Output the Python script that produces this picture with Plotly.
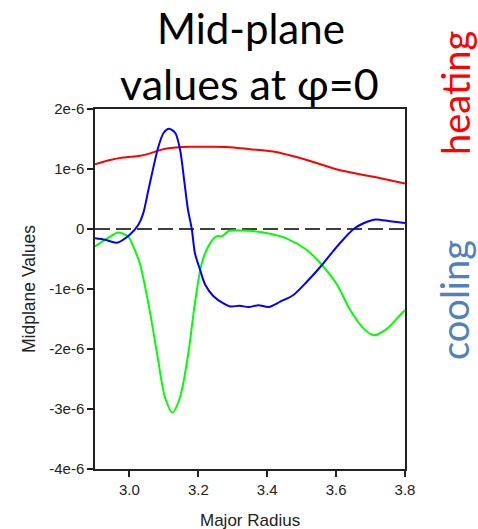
import plotly.graph_objects as go

# ---- data (values in units of 1e-6) ----
red_x = [2.9, 2.944, 2.982, 3.031, 3.06, 3.08, 3.108, 3.176, 3.244, 3.302, 3.35, 3.418, 3.515, 3.612, 3.709, 3.8]
red_y = [1.08, 1.15, 1.19, 1.22, 1.26, 1.30, 1.34, 1.37, 1.37, 1.36, 1.33, 1.29, 1.15, 0.98, 0.87, 0.76]

blue_x = [2.9, 2.93, 2.963, 3.0, 3.026, 3.04, 3.055, 3.07, 3.084, 3.099, 3.115, 3.133, 3.147, 3.16, 3.17,
          3.181, 3.19, 3.205, 3.22, 3.244, 3.273, 3.292, 3.32, 3.346, 3.375, 3.404, 3.438, 3.476, 3.515,
          3.559, 3.603, 3.651, 3.69, 3.714, 3.757, 3.8]
blue_y = [-0.155, -0.18, -0.23, -0.1, 0.07, 0.26, 0.65, 1.04, 1.37, 1.6, 1.67, 1.6, 1.32, 0.76, 0.32,
          0.0, -0.4, -0.68, -0.93, -1.12, -1.24, -1.29, -1.28, -1.3, -1.27, -1.3, -1.21, -1.1, -0.88,
          -0.6, -0.29, 0.0, 0.12, 0.16, 0.13, 0.1]

green_x = [2.9, 2.935, 2.968, 2.997, 3.011, 3.03, 3.055, 3.08, 3.103, 3.125, 3.147, 3.171, 3.19, 3.21,
           3.234, 3.254, 3.268, 3.29, 3.35, 3.409, 3.457, 3.515, 3.559, 3.603, 3.641, 3.68, 3.709,
           3.748, 3.777, 3.8]
green_y = [-0.29, -0.16, -0.06, -0.13, -0.29, -0.57, -1.24, -2.07, -2.8, -3.06, -2.8, -2.07, -1.24, -0.57,
           -0.24, -0.12, -0.12, -0.03, -0.03, -0.08, -0.16, -0.35, -0.6, -0.93, -1.35, -1.66, -1.77,
           -1.66, -1.49, -1.35]

zero_x = [2.9, 3.8]
zero_y = [0.0, 0.0]

y_tickvals = [2, 1, 0, -1, -2, -3, -4]
y_ticktext = ["2e-6", "1e-6", "0", "-1e-6", "-2e-6", "-3e-6", "-4e-6"]
x_tickvals = [3.0, 3.2, 3.4, 3.6, 3.8]
x_ticktext = ["3.0", "3.2", "3.4", "3.6", "3.8"]

SCALE = 1e-6


def sc(v):
    return [a * SCALE for a in v]


fig = go.Figure()
fig.add_trace(go.Scatter(x=zero_x, y=sc(zero_y), mode="lines",
                         line=dict(color="black", width=1.5, dash="15px,6px")))
fig.add_trace(go.Scatter(x=red_x, y=sc(red_y), mode="lines",
                         line=dict(color="#FF0000", width=2, shape="spline", smoothing=0.8)))
fig.add_trace(go.Scatter(x=green_x, y=sc(green_y), mode="lines",
                         line=dict(color="#00FF00", width=2, shape="spline", smoothing=0.8)))
fig.add_trace(go.Scatter(x=blue_x, y=sc(blue_y), mode="lines",
                         line=dict(color="#0000FF", width=2, shape="spline", smoothing=0.8)))

tickfont = dict(family="Liberation Sans, Arial", size=15, color="#222222")

fig.update_layout(
    width=478, height=529,
    margin=dict(l=95, r=73, t=109, b=60),
    paper_bgcolor="white", plot_bgcolor="white",
    showlegend=False,
    xaxis=dict(range=[2.9, 3.8], tickvals=x_tickvals, ticktext=x_ticktext,
               ticks="outside", ticklen=6, tickwidth=1.5, tickcolor="#222222",
               showline=True, linecolor="#222222", linewidth=1.5, mirror=True,
               showgrid=False, zeroline=False, tickfont=tickfont),
    yaxis=dict(range=[-4 * SCALE, 2 * SCALE], tickvals=sc(y_tickvals), ticktext=y_ticktext,
               ticks="outside", ticklen=6, tickwidth=1.5, tickcolor="#222222",
               showline=True, linecolor="#222222", linewidth=1.5, mirror=True,
               showgrid=False, zeroline=False, tickfont=tickfont),
)

H = 360.0
W = 310.0


def px(x):
    return (x - 95) / W


def py(y):
    return (469 - y) / H


ann = [
    dict(text="Mid-plane", x=px(251), y=py(28), font=dict(family="Lato", size=42, color="black"),
         xanchor="center", yanchor="middle"),
    dict(text="values at φ=0", x=px(249), y=py(83), font=dict(family="Lato", size=43, color="black"),
         xanchor="center", yanchor="middle"),
    dict(text="heating", x=px(455), y=py(93), textangle=-90,
         font=dict(family="Lato", size=38, color="#FF0000"), xanchor="center", yanchor="middle"),
    dict(text="cooling", x=px(454), y=py(300), textangle=-90,
         font=dict(family="Lato", size=38, color="#4F81BD"), xanchor="center", yanchor="middle"),
    dict(text="Midplane Values", x=px(29), y=py(289), textangle=-90,
         font=dict(family="Liberation Sans, Arial", size=17.5, color="#222222"),
         xanchor="center", yanchor="middle"),
    dict(text="Major Radius", x=px(250), y=py(520), font=dict(family="Liberation Sans, Arial", size=17, color="#222222"),
         xanchor="center", yanchor="middle"),
]
for a in ann:
    a.update(xref="paper", yref="paper", showarrow=False)
fig.update_layout(annotations=ann)

fig.write_html("out.html")
